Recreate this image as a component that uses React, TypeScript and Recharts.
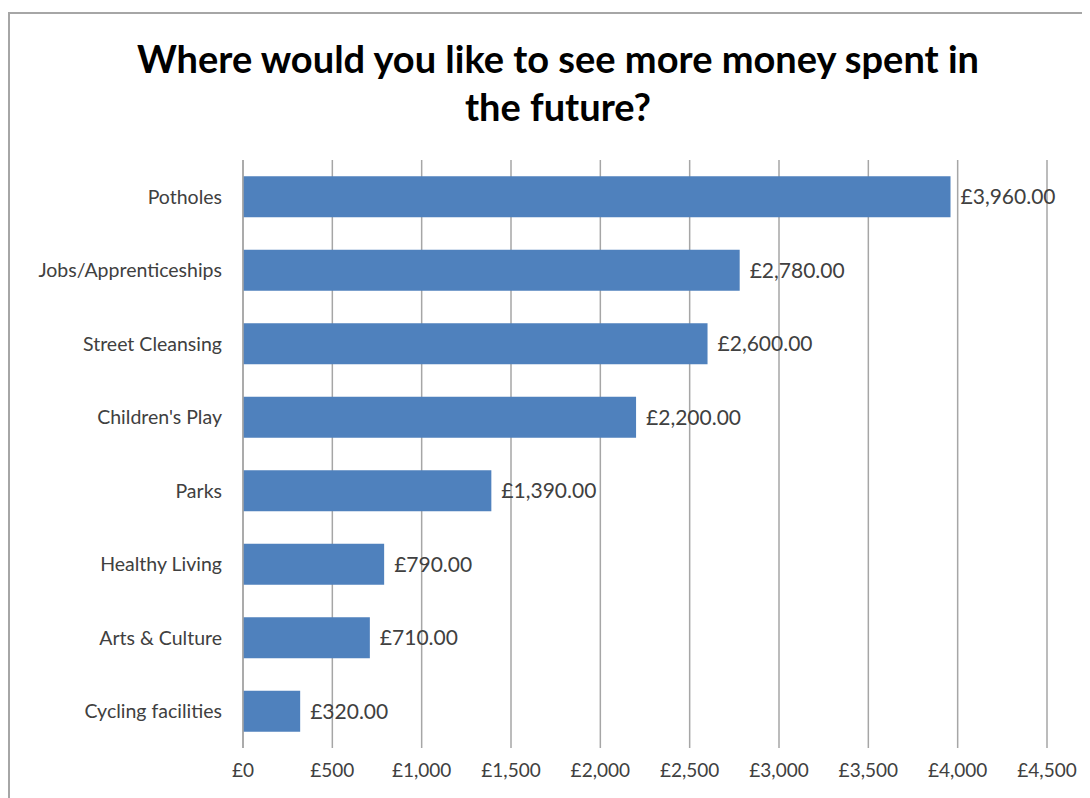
import {Bar, BarChart, CartesianGrid, LabelList, XAxis, YAxis} from 'recharts';

const categories = [
  'Potholes',
  'Jobs/Apprenticeships',
  'Street Cleansing',
  "Children's Play",
  'Parks',
  'Healthy Living',
  'Arts & Culture',
  'Cycling facilities',
];
const amounts = [3960, 2780, 2600, 2200, 1390, 790, 710, 320];
const xTicks = [0, 500, 1000, 1500, 2000, 2500, 3000, 3500, 4000, 4500];

const data = categories.map((name, i) => ({name, amount: amounts[i]}));

const withCommas = (n: number) => String(n).replace(/\B(?=(\d{3})+(?!\d))/g, ',');
const tickMoney = (v: number) => '£' + withCommas(v);
const labelMoney = (v: number) => '£' + withCommas(Math.floor(v)) + '.00';

const font = 'Lato, "Open Sans", sans-serif';
const textColor = '#404040';
const gridColor = '#a6a6a6';

export default function App() {
  return (
    <div
      style={{
        position: 'relative',
        marginTop: 4,
        width: 1100,
        height: 784,
        borderTop: '2px solid #a6a6a6',
        borderLeft: '2px solid #a6a6a6',
        background: '#fff',
        fontFamily: font,
      }}
    >
      <div
        style={{
          position: 'absolute',
          left: 0,
          top: 20,
          width: 1096,
          textAlign: 'center',
          fontSize: 38,
          fontWeight: 700,
          lineHeight: '48px',
          color: '#000',
        }}
      >
        Where would you like to see more money spent in
        <br />
        the future?
      </div>
      <BarChart
        width={1080}
        height={784}
        data={data}
        layout="vertical"
        margin={{top: 146, right: 43, bottom: 14, left: 0}}
        barCategoryGap="22%"
      >
        <CartesianGrid horizontal={false} stroke={gridColor} strokeWidth={1.5} />
        <XAxis
          type="number"
          domain={[0, 4500]}
          ticks={xTicks}
          tickFormatter={tickMoney}
          axisLine={false}
          tickLine={false}
          tickSize={0}
          tickMargin={16}
          height={36}
          interval={0}
          tick={{fill: textColor, fontSize: 19, fontFamily: font}}
        />
        <YAxis
          type="category"
          dataKey="name"
          width={233}
          axisLine={{stroke: gridColor, strokeWidth: 1.5}}
          tickLine={false}
          tickSize={0}
          tickMargin={21}
          interval={0}
          tick={{fill: textColor, fontSize: 19.5, fontFamily: font}}
        />
        <Bar dataKey="amount" fill="#4f81bd" isAnimationActive={false}>
          <LabelList
            dataKey="amount"
            position="right"
            offset={10}
            formatter={(v: any) => labelMoney(Number(v))}
            fill={textColor}
            fontSize={21}
            fontFamily={font}
          />
        </Bar>
      </BarChart>
    </div>
  );
}
